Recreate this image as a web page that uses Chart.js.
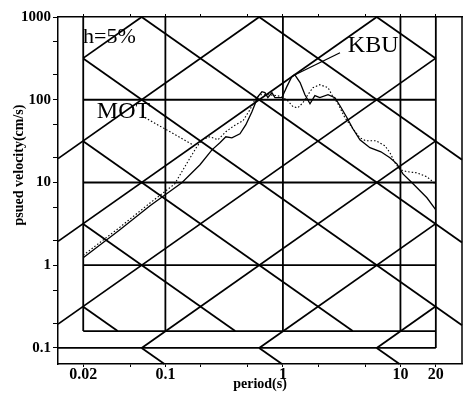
<!DOCTYPE html>
<html><head><meta charset="utf-8">
<script src="https://cdn.jsdelivr.net/npm/chart.js@4/dist/chart.umd.min.js"></script>
<style>html,body{margin:0;padding:0;background:#fff}#wrap{width:463px;height:393px;position:relative}</style>
</head><body><div id="wrap"><canvas id="c"></canvas></div>
<script>
// ---- data ----
const kbuPeriod = [0.020,0.041,0.074,0.138,0.197,0.249,0.291,0.327,0.368,0.431,0.484,0.545,0.613,0.663,0.703,0.745,0.806,0.855,0.98,1.08,1.19,1.26,1.40,1.54,1.70,1.87,2.06,2.42,2.77,3.06,3.51,3.94,4.52,5.50,6.82,8.14,9.33,10.5,12.8,16.8,20.0];
const kbuVelocity = [1.23,2.68,5.23,9.92,16.4,24.8,30.2,35.7,34.7,38.8,49.9,71.6,109,125,122,106,122,106,106,144,190,201,161,115,89.5,112,106,115,106,84.6,60.6,44.6,32.8,26.3,23.5,19.9,16.8,12.7,9.64,6.53,4.68];
const motPeriod = [0.020,0.041,0.074,0.120,0.162,0.185,0.205,0.239,0.280,0.327,0.383,0.457,0.524,0.578,0.637,0.745,0.907,1.08,1.22,1.34,1.48,1.63,1.80,2.06,2.42,2.66,2.94,3.37,3.94,4.52,5.09,6.19,7.38,8.14,8.98,9.90,11.4,13.8,16.8,18.9,20.0];
const motVelocity = [1.32,2.88,5.65,9.6,19.8,27.0,32.8,35.7,32.8,41.0,48.5,55.7,75.7,100,115,115,112,100,82.3,80.0,92.0,115,140,152,140,109,89.5,60.6,44.6,34.7,31.9,31.9,27.8,22.9,17.3,14.3,13.5,13.1,11.7,10.2,9.38];

const xTickValues = [0.02,0.05,0.1,0.2,0.5,1,2,5,10,20];
const xTickLabels = ['0.02','','0.1','','','1','','','10','20'];
const yTickValues = [0.1,0.2,0.5,1,2,5,10,20,50,100,200,500,1000];
const yTickLabels = ['0.1','','','1','','','10','','','100','','','1000'];

// tripartite grid levels
const accelLevels = [0.1,1,10,100,1000,10000,100000];   // gal
const dispLevels = [0.001,0.01,0.1,1,10,100,1000];      // cm
const velocityGrid = [1,10,100];
const periodGrid = [0.02,0.1,1,10];

// axis ranges / frame levels
const periodMin = 0.0122, periodMax = 33.4;
const velocityMin = 0.064, velocityMax = 1000;
const innerPeriodMin = 0.02, innerPeriodMax = 20;
const innerVelocityMin = 0.16, lowerVelocityLine = 0.1, stripVelocityMax = 100;

const annotations = [
  {text:'h=5%', t:0.0199, v:489, font:'22px "Liberation Serif"'},
  {text:'MOT', t:0.0261, v:60.6, font:'24px "Liberation Serif"'},
  {text:'KBU', t:3.57, v:380, font:'24px "Liberation Serif"'}
];
const kbuLeaderPeriod = [1.22, 3.06];
const kbuLeaderVelocity = [195, 370];
const motLeaderPeriod = [0.063, 0.171];
const motLeaderVelocity = [64, 28.6];
const xTitle = 'period(s)';
const yTitle = 'psued velocity(cm/s)';

// ---- build datasets ----
const datasets = [];
const TWO_PI = 2*Math.PI;
function seg(points, opts){
  datasets.push(Object.assign({data:points, showLine:true, pointRadius:0, borderColor:'#000', borderWidth:1.8, fill:false, clip:false, tension:0, borderCapStyle:'butt'}, opts||{}));
}
// acceleration lines V = A T / 2pi
accelLevels.forEach(A=>{
  const a = A/TWO_PI;
  const t0 = (a*innerPeriodMin <= stripVelocityMax) ? periodMin : innerPeriodMin;
  const s = Math.max(t0, lowerVelocityLine/a), e = Math.min(innerPeriodMax, velocityMax/a);
  if (s < e) seg([{x:s,y:a*s},{x:e,y:a*e}]);
});
// displacement lines V = 2pi D / T
dispLevels.forEach(D=>{
  const b = D*TWO_PI;
  const t1 = (b/innerPeriodMax <= stripVelocityMax) ? periodMax : innerPeriodMax;
  let s = Math.max(innerPeriodMin, b/velocityMax), e = Math.min(t1, b/innerVelocityMin);
  if (s < e) seg([{x:s,y:b/s},{x:e,y:b/e}]);
  s = Math.max(innerPeriodMin, b/lowerVelocityLine); e = Math.min(innerPeriodMax, b/velocityMin);
  if (s < e) seg([{x:s,y:b/s},{x:e,y:b/e}]);
});
// horizontal lines
velocityGrid.forEach(v=>seg([{x:innerPeriodMin,y:v},{x:innerPeriodMax,y:v}]));
seg([{x:innerPeriodMin,y:innerVelocityMin},{x:innerPeriodMax,y:innerVelocityMin}]);
seg([{x:periodMin,y:lowerVelocityLine},{x:innerPeriodMax,y:lowerVelocityLine}]);
// vertical lines
periodGrid.forEach(t=>seg([{x:t,y:innerVelocityMin},{x:t,y:velocityMax}]));
seg([{x:innerPeriodMax,y:lowerVelocityLine},{x:innerPeriodMax,y:velocityMax}]);
// right frame
seg([{x:periodMax,y:velocityMin},{x:periodMax,y:velocityMax}], {borderWidth:1.5});
// curves
seg(kbuPeriod.map((t,i)=>({x:t,y:kbuVelocity[i]})), {borderWidth:1.3, label:'KBU'});
seg(motPeriod.map((t,i)=>({x:t,y:motVelocity[i]})), {borderWidth:1.1, borderDash:[1.5,2], label:'MOT'});
// leaders
seg(kbuLeaderPeriod.map((t,i)=>({x:t,y:kbuLeaderVelocity[i]})), {borderWidth:1.3});
seg(motLeaderPeriod.map((t,i)=>({x:t,y:motLeaderVelocity[i]})), {borderWidth:1.1, borderDash:[1.5,2]});

const tickFont = {family:'"Liberation Serif", "Times New Roman", serif', size:15, weight:'bold', lineHeight:1};

const textPlugin = {
  id:'texts',
  afterDatasetsDraw(chart){
    const {ctx} = chart; const xs = chart.scales.x, ys = chart.scales.y;
    ctx.save();
    ctx.fillStyle = '#000'; ctx.textAlign = 'left'; ctx.textBaseline = 'alphabetic';
    annotations.forEach(a=>{ ctx.font = a.font; ctx.fillText(a.text, xs.getPixelForValue(a.t), ys.getPixelForValue(a.v)); });
    ctx.translate(19, 165); ctx.rotate(-Math.PI/2);
    ctx.textAlign = 'center'; ctx.textBaseline = 'middle';
    ctx.font = 'bold 14px "Liberation Serif"';
    ctx.fillText(yTitle, 0, 0);
    ctx.restore();
  }
};

new Chart(document.getElementById('c'), {
  type:'scatter',
  data:{datasets},
  options:{
    responsive:true, maintainAspectRatio:false, animation:false,
    layout:{padding:{top:14, right:1, left:0, bottom:0}},
    plugins:{legend:{display:false}, tooltip:{enabled:false}},
    scales:{
      x:{type:'logarithmic', position:'bottom', min:periodMin, max:periodMax,
        afterBuildTicks:s=>{ s.ticks = xTickValues.map(v=>({value:v})); },
        afterFit:s=>{ s.height = 29; },
        ticks:{autoSkip:false, maxRotation:0, padding:0, color:'#000', font:Object.assign({},tickFont,{size:16}),
          callback:(v)=>{ const i = xTickValues.indexOf(v); return i>=0 ? xTickLabels[i] : ''; }},
        grid:{drawOnChartArea:false, drawTicks:true, tickLength:3, color:'#000', lineWidth:1},
        border:{display:true, color:'#000', width:1.5},
        title:{display:true, text:xTitle, color:'#000', font:{family:'"Liberation Serif"', size:14, weight:'bold', lineHeight:1}, padding:{top:0, bottom:2}}
      },
      x2:{type:'logarithmic', position:'top', min:periodMin, max:periodMax,
        afterBuildTicks:s=>{ s.ticks = xTickValues.map(v=>({value:v})); },
        afterFit:s=>{ s.height = 3; },
        ticks:{display:false},
        grid:{drawOnChartArea:false, drawTicks:true, tickLength:3, color:'#000', lineWidth:1},
        border:{display:true, color:'#000', width:1.5}
      },
      y:{type:'logarithmic', position:'left', min:velocityMin, max:velocityMax,
        afterBuildTicks:s=>{ s.ticks = yTickValues.map(v=>({value:v})); },
        afterFit:s=>{ s.width = 58; },
        ticks:{autoSkip:false, padding:2, color:'#000', font:tickFont,
          callback:(v)=>{ const i = yTickValues.indexOf(v); return i>=0 ? yTickLabels[i] : ''; }},
        grid:{drawOnChartArea:false, drawTicks:true, tickLength:5, color:'#000', lineWidth:1},
        border:{display:true, color:'#000', width:1.5}
      }
    }
  },
  plugins:[textPlugin]
});
</script>
</body></html>
